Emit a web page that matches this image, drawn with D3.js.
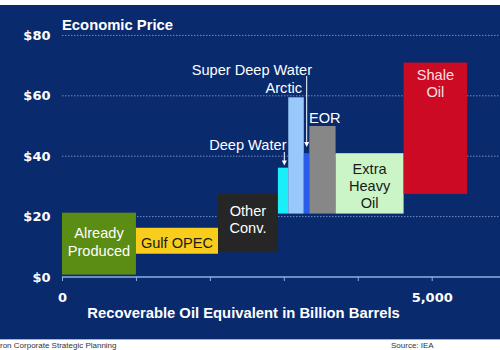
<!DOCTYPE html>
<html><head><meta charset="utf-8">
<script src="https://cdn.jsdelivr.net/npm/d3@7"></script>
<style>html,body{margin:0;padding:0;background:#fff;} svg{display:block;}</style>
</head><body>
<svg id="chart" width="500" height="350"></svg>
<script>
const categories = ["Already Produced", "Gulf OPEC", "Other Conv.", "Deep Water", "Arctic", "Super Deep Water", "EOR", "Extra Heavy Oil", "Shale Oil"];
const xStart = [0, 1000, 2110, 2920, 3060, 3270, 3345, 3700, 4620];
const xEnd   = [1000, 2110, 2920, 3060, 3270, 3345, 3700, 4620, 5480];
const priceLow  = [0.8, 7.7, 8.2, 21, 21, 21, 21, 21, 27.5];
const priceHigh = [21.3, 16.3, 27.5, 36.2, 59.5, 41, 50, 41, 71];
const barColors = ["#5b8c14", "#f8cd1c", "#262626", "#1aeef8", "#99c8fa", "#2b5ce8", "#878787", "#cbf5c6", "#cc0a24"];
const yTicks = [0, 20, 40, 60, 80];
const yTickLabels = ["$0", "$20", "$40", "$60", "$80"];
const xTicks = [0, 1000, 2000, 3000, 4000, 5000];
const xTickLabels = ["0", "", "", "", "", "5,000"];

const svg = d3.select("#chart");
const font = "'Liberation Sans', Arial, sans-serif";
const tickFont = "'DejaVu Sans', Verdana, sans-serif";
svg.attr("font-family", font);

// panel
svg.append("rect").attr("x", 0).attr("y", 5).attr("width", 500).attr("height", 334).attr("fill", "#0a2a6e");
svg.append("line").attr("x1", 0).attr("x2", 500).attr("y1", 339.5).attr("y2", 339.5).attr("stroke", "#9fb4d8").attr("stroke-width", 1);

const x = d3.scaleLinear().domain([0, 5000]).range([62, 431.7]);
const y = d3.scaleLinear().domain([0, 80]).range([277, 35.4]);

// gridlines
svg.append("g").selectAll("line").data(yTicks.filter(d => d > 0)).join("line")
  .attr("x1", x(0)).attr("x2", 500)
  .attr("y1", d => y(d)).attr("y2", d => y(d))
  .attr("stroke", "#8aa6d6").attr("stroke-width", 1).attr("stroke-dasharray", "1.5,1.5").attr("opacity", 0.8);

// bars
const bars = categories.map((c, i) => ({c, x0: xStart[i], x1: xEnd[i], lo: priceLow[i], hi: priceHigh[i], col: barColors[i]}));
svg.append("g").selectAll("rect").data(bars).join("rect")
  .attr("x", d => x(d.x0)).attr("width", d => x(d.x1) - x(d.x0))
  .attr("y", d => y(d.hi)).attr("height", d => y(d.lo) - y(d.hi))
  .attr("fill", d => d.col);

// x axis
const xAxis = d3.axisBottom(x).tickValues(xTicks).tickSize(4).tickFormat((d, i) => xTickLabels[i]);
const gx = svg.append("g").attr("transform", `translate(0,${y(0)})`).call(xAxis);
gx.select(".domain").remove();
gx.append("line").attr("x1", x(0)).attr("x2", 500).attr("y1", 0).attr("y2", 0).attr("stroke", "#8db0e2").attr("stroke-width", 1.5);
gx.selectAll(".tick line").attr("stroke", "#8db0e2");
gx.selectAll(".tick text").attr("fill", "#fff").attr("font-size", 13).attr("font-weight", "bold").attr("font-family", tickFont).attr("dy", "1.4em");

// y axis labels
const yAxis = d3.axisLeft(y).tickValues(yTicks).tickSize(0).tickPadding(0).tickFormat((d, i) => yTickLabels[i]);
const gy = svg.append("g").attr("transform", "translate(50.5,0)").call(yAxis);
gy.select(".domain").remove();
gy.selectAll(".tick text").attr("fill", "#fff").attr("font-size", 13).attr("font-weight", "bold").attr("font-family", tickFont);

// titles
svg.append("text").attr("x", 62).attr("y", 30).attr("fill", "#fff").attr("font-size", 14.8).attr("font-weight", "bold").text("Economic Price");
svg.append("text").attr("x", 243.5).attr("y", 318).attr("text-anchor", "middle").attr("fill", "#fff").attr("font-size", 14.8).attr("font-weight", "bold").text("Recoverable Oil Equivalent in Billion Barrels");

// bar labels inside
function multi(lines, cx, cy0, color) {
  const t = svg.append("text").attr("text-anchor", "middle").attr("fill", color).attr("font-size", 14.6);
  lines.forEach((l, i) => t.append("tspan").attr("x", cx).attr("y", cy0 + i * 17.2).attr("dy", "0.35em").text(l));
}
const mid = i => (x(xStart[i]) + x(xEnd[i])) / 2;
multi(["Already", "Produced"], mid(0), 233.3, "#fff");
multi(["Gulf OPEC"], mid(1), 242.5, "#1a1a1a");
multi(["Other", "Conv."], mid(2), 210.5, "#fff");
multi(["Extra", "Heavy", "Oil"], mid(7), 168.5, "#1a1a1a");
multi(["Shale", "Oil"], mid(8), 75, "#fbe0e4");

// outside labels
function lab(txt, xx, yy, anchor) {
  svg.append("text").attr("x", xx).attr("y", yy).attr("dy", "0.35em").attr("text-anchor", anchor).attr("fill", "#fff").attr("font-size", 14.6).text(txt);
}
lab("Super Deep Water", 312, 70, "end");
lab("Arctic", 302, 88.3, "end");
lab("EOR", 309, 117.5, "start");
lab("Deep Water", 286.5, 144.5, "end");

// arrows
function arrow(xx, y1, y2) {
  svg.append("line").attr("x1", xx).attr("x2", xx).attr("y1", y1).attr("y2", y2 - 4).attr("stroke", "#fff").attr("stroke-width", 1);
  svg.append("path").attr("d", `M${xx - 2.5},${y2 - 5}L${xx + 2.5},${y2 - 5}L${xx},${y2}Z`).attr("fill", "#fff");
}
arrow(306.7, 76, 147);
arrow(284.3, 152, 165.5);

// footer
svg.append("text").attr("x", 0).attr("y", 348).attr("fill", "#333").attr("font-size", 8).text("ron Corporate Strategic Planning");
svg.append("text").attr("x", 391).attr("y", 348).attr("fill", "#333").attr("font-size", 8).text("Source: IEA");
</script>
</body></html>
